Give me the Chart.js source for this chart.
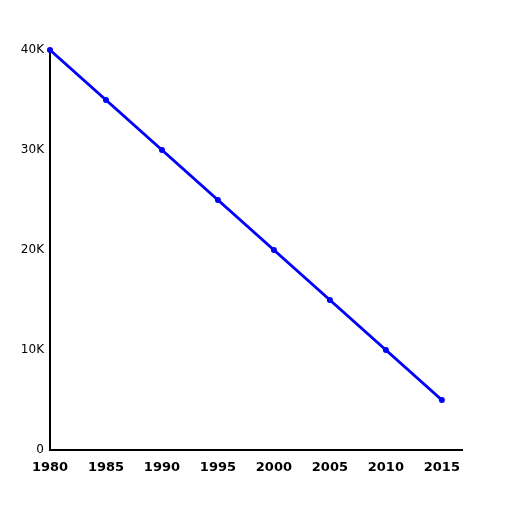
<!DOCTYPE html>
<html><head><meta charset="utf-8">
<script src="https://cdn.jsdelivr.net/npm/chart.js@4"></script>
<style>html,body{margin:0;padding:0;background:#fff}#w{width:512px;height:512px}</style>
</head><body><div id="w"><canvas id="c"></canvas></div>
<script>
const years = [1980, 1985, 1990, 1995, 2000, 2005, 2010, 2015];
const values = [40000, 35000, 30000, 25000, 20000, 15000, 10000, 5000];
const yTicks = [0, 10000, 20000, 30000, 40000];
const yLabels = ['0', '10K', '20K', '30K', '40K'];

new Chart(document.getElementById('c'), {
  type: 'line',
  data: { datasets: [{
    data: years.map((y, i) => ({x: y, y: values[i]})),
    borderColor: '#0000ff', backgroundColor: '#0000ff',
    borderWidth: 3, pointRadius: 3, pointBorderWidth: 0, tension: 0, clip: false
  }]},
  options: {
    responsive: true, maintainAspectRatio: false, animation: false,
    layout: { padding: { top: 50, right: 50, left: 0, bottom: 0 } },
    plugins: { legend: { display: false }, tooltip: { enabled: false } },
    scales: {
      x: {
        type: 'linear', min: 1980, max: 2016.8,
        afterBuildTicks: a => { a.ticks = years.map(v => ({value: v})); },
        afterFit: a => { a.height = 62; },
        grid: { display: false, drawTicks: false },
        border: { color: '#000', width: 2 },
        ticks: { color: '#000', padding: 10, maxRotation: 0, autoSkip: false,
          font: { family: 'DejaVu Sans', size: 13, weight: 'bold' },
          callback: v => String(v) }
      },
      y: {
        min: 0, max: 40000,
        afterBuildTicks: a => { a.ticks = yTicks.map(v => ({value: v})); },
        afterFit: a => { a.width = 50; },
        grid: { display: false, drawTicks: false },
        border: { color: '#000', width: 2 },
        ticks: { color: '#000', padding: 6,
          font: { family: 'DejaVu Sans', size: 12 },
          callback: v => yLabels[yTicks.indexOf(v)] }
      }
    }
  }
});
</script></body></html>
